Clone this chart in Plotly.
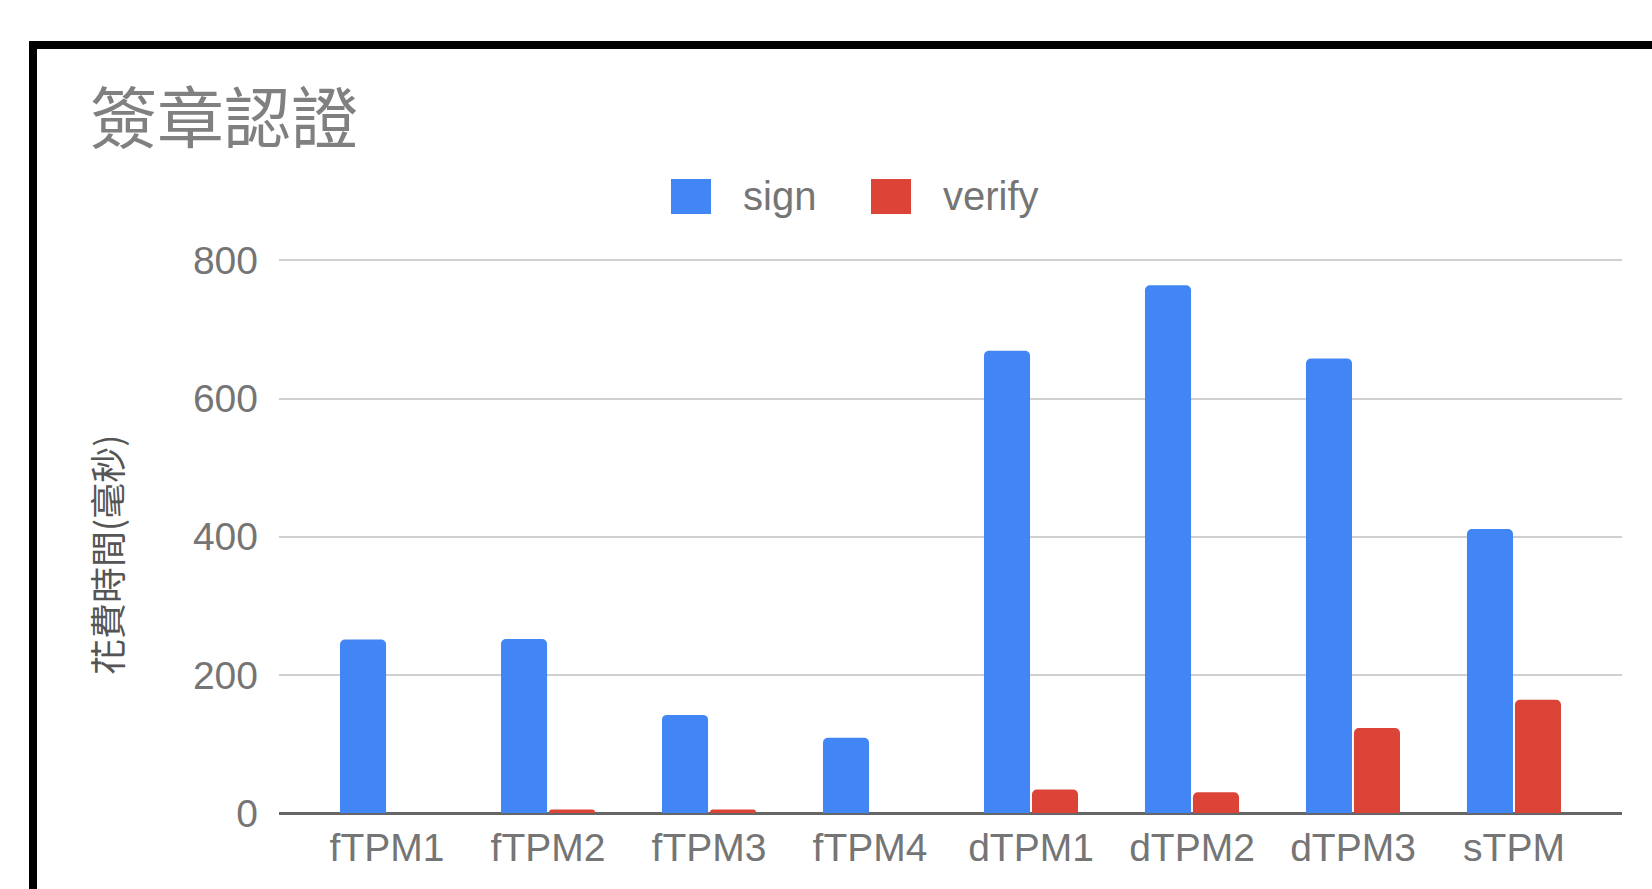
import plotly.graph_objects as go

# Data
categories = ["fTPM1", "fTPM2", "fTPM3", "fTPM4", "dTPM1", "dTPM2", "dTPM3", "sTPM"]
sign_ms = [251, 252, 142, 109, 669, 764, 658, 411]
verify_ms = [0, 5, 5, 0, 34, 30, 123, 164]
y_ticks = [0, 200, 400, 600, 800]

BLUE = "#4285F4"
RED = "#DB4437"
GREY_TEXT = "#757575"

W, H = 1652, 889
ML, MR, MT, MB = 279, 30, 259, 76
PW, PH = W - ML - MR, H - MT - MB


def px_x(x):
    return (x - ML) / PW


def px_y(y):
    return (H - MB - y) / PH


fig = go.Figure()
fig.add_trace(go.Bar(x=categories, y=sign_ms, name="sign",
                     marker=dict(color=BLUE, line=dict(width=0))))
fig.add_trace(go.Bar(x=categories, y=verify_ms, name="verify",
                     marker=dict(color=RED, line=dict(width=0))))

tick_font = dict(family="Liberation Sans, Arial, sans-serif", size=39, color=GREY_TEXT)

fig.update_layout(
    width=W, height=H,
    margin=dict(l=ML, r=MR, t=MT, b=MB, pad=0),
    paper_bgcolor="white", plot_bgcolor="white",
    barmode="group", bargap=0.404, bargroupgap=0.04, barcornerradius=5,
    showlegend=False,
    title=dict(text="簽章認證", xref="container", yref="container",
               x=90 / W, xanchor="left", y=1 - 120 / H, yanchor="middle",
               font=dict(family="Noto Sans CJK TC", size=67, color="#808080")),
    xaxis=dict(range=[-0.671, 7.671], showgrid=False, zeroline=False,
               showline=False, ticks="", tickfont=tick_font,
               ticklabelstandoff=8),
    yaxis=dict(range=[0, 802], tickvals=y_ticks, showgrid=True,
               gridcolor="#d0d0d0", gridwidth=2,
               zeroline=True, zerolinecolor="#666666", zerolinewidth=3,
               showline=False, ticks="", tickfont=tick_font,
               ticklabelstandoff=20),
)

# Y-axis title
fig.add_annotation(x=px_x(106), y=px_y(555), xref="paper", yref="paper",
                   text="花費時間(毫秒)", textangle=-90, showarrow=False,
                   xanchor="center", yanchor="middle",
                   font=dict(family="Noto Sans CJK TC", size=36, color="#555555"))

# Outer black frame
fig.add_shape(type="rect", xref="paper", yref="paper",
              x0=px_x(33), x1=px_x(1720), y0=px_y(960), y1=px_y(45),
              line=dict(color="black", width=8), fillcolor="rgba(0,0,0,0)",
              layer="above")

# Legend
legend_items = [("sign", BLUE, 671, 741), ("verify", RED, 871, 941)]
for label, color, sx, tx in legend_items:
    fig.add_shape(type="rect", xref="paper", yref="paper",
                  x0=px_x(sx), x1=px_x(sx + 40), y0=px_y(214), y1=px_y(179),
                  line=dict(color=color, width=0), fillcolor=color)
    fig.add_annotation(x=px_x(tx), y=px_y(196), xref="paper", yref="paper",
                       text=label, showarrow=False, xanchor="left", yanchor="middle",
                       font=dict(family="Liberation Sans, Arial, sans-serif",
                                 size=40, color=GREY_TEXT))

fig.write_html("out.html")
